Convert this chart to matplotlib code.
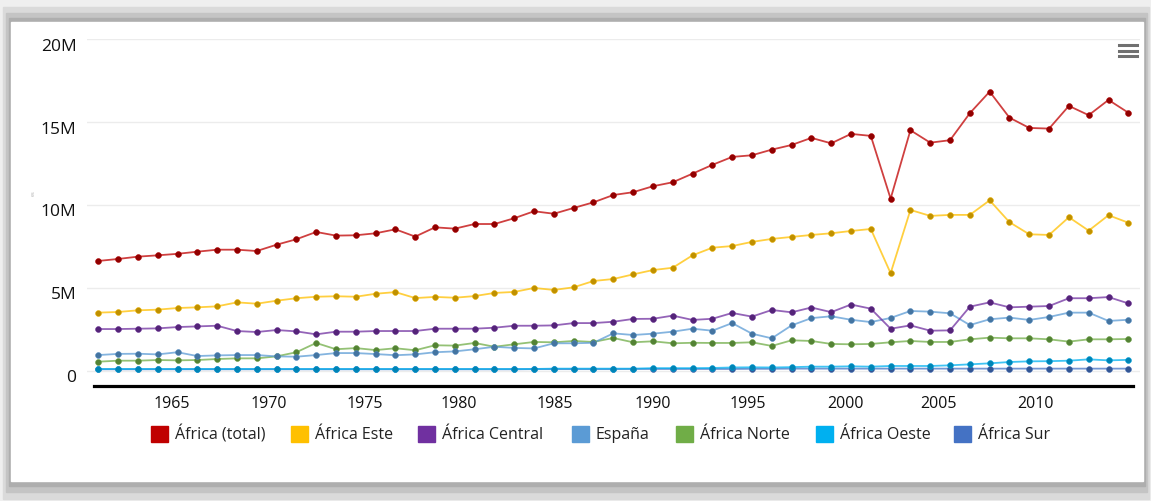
import numpy as np
import matplotlib
matplotlib.use("Agg")
import matplotlib.pyplot as plt
import matplotlib.colors as mcolors
import matplotlib.transforms as mtransforms
from matplotlib.patches import Rectangle
from matplotlib.lines import Line2D

plt.rcParams['font.family'] = ['Open Sans', 'DejaVu Sans']

W, H = 1151, 501

# --- data (millions), one point per year ---
africa_total = [6.62, 6.74, 6.88, 6.96, 7.05, 7.18, 7.30, 7.30, 7.22, 7.60,
                7.93, 8.37, 8.15, 8.17, 8.29, 8.53, 8.09, 8.65, 8.57, 8.85,
                8.85, 9.20, 9.62, 9.47, 9.82, 10.16, 10.60, 10.77, 11.13, 11.37,
                11.89, 12.42, 12.90, 13.00, 13.34, 13.62, 14.05, 13.72, 14.29, 14.17,
                10.38, 14.51, 13.76, 13.91, 15.54, 16.84, 15.27, 14.65, 14.61, 15.98,
                15.42, 16.34, 15.57]
africa_este = [3.50, 3.54, 3.64, 3.68, 3.78, 3.82, 3.88, 4.12, 4.04, 4.22,
               4.37, 4.46, 4.49, 4.46, 4.64, 4.74, 4.38, 4.45, 4.40, 4.50,
               4.69, 4.75, 4.99, 4.87, 5.03, 5.41, 5.53, 5.81, 6.07, 6.21,
               6.96, 7.42, 7.52, 7.77, 7.95, 8.07, 8.19, 8.29, 8.43, 8.55,
               5.88, 9.70, 9.34, 9.40, 9.40, 10.28, 8.96, 8.23, 8.19, 9.26,
               8.45, 9.38, 8.93]
africa_central = [2.51, 2.51, 2.53, 2.55, 2.63, 2.67, 2.71, 2.39, 2.33, 2.45,
                  2.37, 2.19, 2.35, 2.35, 2.39, 2.39, 2.39, 2.53, 2.53, 2.53,
                  2.59, 2.71, 2.71, 2.73, 2.87, 2.87, 2.95, 3.12, 3.13, 3.32,
                  3.06, 3.13, 3.48, 3.26, 3.66, 3.52, 3.81, 3.53, 3.99, 3.74,
                  2.53, 2.73, 2.41, 2.43, 3.86, 4.12, 3.82, 3.86, 3.90, 4.37,
                  4.37, 4.44, 4.06]
espana = [0.94, 1.01, 1.02, 0.98, 1.11, 0.88, 0.92, 0.94, 0.94, 0.86,
          0.84, 0.94, 1.06, 1.06, 1.00, 0.93, 0.98, 1.11, 1.16, 1.29,
          1.44, 1.37, 1.34, 1.65, 1.65, 1.68, 2.25, 2.15, 2.23, 2.35,
          2.53, 2.41, 2.87, 2.23, 1.95, 2.73, 3.17, 3.28, 3.07, 2.93,
          3.18, 3.60, 3.56, 3.46, 2.75, 3.10, 3.20, 3.06, 3.24, 3.50,
          3.50, 3.00, 3.07]
africa_norte = [0.54, 0.60, 0.60, 0.64, 0.62, 0.64, 0.70, 0.74, 0.74, 0.86,
                1.11, 1.67, 1.29, 1.36, 1.24, 1.35, 1.23, 1.53, 1.51, 1.67,
                1.44, 1.59, 1.73, 1.71, 1.79, 1.73, 1.97, 1.71, 1.77, 1.65,
                1.68, 1.67, 1.67, 1.71, 1.49, 1.83, 1.79, 1.61, 1.59, 1.61,
                1.71, 1.79, 1.73, 1.73, 1.89, 1.99, 1.95, 1.95, 1.89, 1.75,
                1.89, 1.89, 1.91]
africa_oeste = [0.10, 0.10, 0.10, 0.10, 0.10, 0.10, 0.10, 0.10, 0.10, 0.10,
                0.10, 0.10, 0.10, 0.10, 0.10, 0.10, 0.10, 0.10, 0.10, 0.10,
                0.10, 0.10, 0.10, 0.12, 0.12, 0.12, 0.12, 0.12, 0.15, 0.15,
                0.15, 0.16, 0.19, 0.20, 0.19, 0.21, 0.24, 0.24, 0.26, 0.24,
                0.28, 0.28, 0.28, 0.32, 0.38, 0.44, 0.52, 0.56, 0.57, 0.60,
                0.68, 0.62, 0.65]
africa_sur = [0.08, 0.08, 0.08, 0.08, 0.08, 0.08, 0.08, 0.08, 0.08, 0.08,
              0.08, 0.08, 0.08, 0.08, 0.08, 0.08, 0.08, 0.08, 0.08, 0.08,
              0.08, 0.08, 0.09, 0.09, 0.09, 0.09, 0.09, 0.10, 0.10, 0.10,
              0.10, 0.10, 0.10, 0.11, 0.11, 0.12, 0.12, 0.12, 0.12, 0.12,
              0.12, 0.12, 0.12, 0.12, 0.12, 0.12, 0.12, 0.12, 0.12, 0.12,
              0.12, 0.12, 0.12]

names = ['África (total)', 'África Este', 'África Central', 'España',
         'África Norte', 'África Oeste', 'África Sur']
series = [africa_total, africa_este, africa_central, espana,
          africa_norte, africa_oeste, africa_sur]
colors = ['#C00000', '#FFC000', '#7030A0', '#5B9BD5',
          '#70AD47', '#00B0F0', '#4472C4']

xtick_labels = ['1965', '1970', '1975', '1980', '1985',
                '1990', '1995', '2000', '2005', '2010']
xtick_pos = [3.7, 8.6, 13.47, 18.2, 23.07, 27.97, 32.8, 37.7, 42.4, 47.3]
ytick_vals = [0, 5, 10, 15, 20]
ytick_labels = ['0', '5M', '10M', '15M', '20M']


def box(x, y, w, h):
    # pixel box (top-left origin) -> figure fraction
    return (x / W, 1 - (y + h) / H, w / W, h / H)


def darker(c, f=0.75):
    r, g, b = mcolors.to_rgb(c)
    return (r * f, g * f, b * f)


fig = plt.figure(figsize=(W / 100, H / 100), dpi=100)
fig.patch.set_facecolor('#efefef')

# screenshot frame / shadow, kept behind the axes
for (x0, y0, x1, y1, c) in [(3, 7, 1149, 499, '#dadada'),
                             (6, 13, 1147, 492, '#c4c4c4'),
                             (9, 18, 1145, 486, '#aeaeae'),
                             (11, 22, 1143, 481, 'white')]:
    fig.patches.append(Rectangle(box(x0, y0, x1 - x0, y1 - y0)[:2],
                                 (x1 - x0) / W, (y1 - y0) / H,
                                 transform=fig.transFigure, color=c, zorder=-10))

ax = fig.add_axes(box(87, 39.3, 1140 - 87, 385.7 - 39.3))
ax.set_facecolor('none')

x = np.arange(len(africa_total))
# draw from back to front: small series first
for vals, c in list(zip(series, colors))[::-1]:
    ax.plot(x, vals, color=c, lw=1.3, alpha=0.75, zorder=3)
    ax.plot(x, vals, ls='none', marker='o', ms=4.2, mfc=darker(c),
            mec=darker(c, 0.9), mew=0.4, zorder=4)

ax.set_xlim(-0.57, 52.59)
ax.set_ylim(-0.91, 20)

ax.set_yticks(ytick_vals)
ax.set_yticklabels(ytick_labels)
ax.set_xticks(xtick_pos)
ax.set_xticklabels(xtick_labels)
ax.grid(axis='y', color='#ececec', lw=1.0, zorder=1)
ax.tick_params(axis='y', length=0, pad=7.5, labelsize=12.5, labelcolor='#111111')
ax.tick_params(axis='x', length=0, pad=7.5, labelsize=11.5, labelcolor='#111111')
for s in ['top', 'right', 'left']:
    ax.spines[s].set_visible(False)
ax.spines['bottom'].set_linewidth(2.3)
ax.spines['bottom'].set_color('black')
ax.spines['bottom'].set_bounds(-0.22, 52.24)

off = mtransforms.ScaledTranslation(0, -5.5 / 100, fig.dpi_scale_trans)
for lab in ax.get_yticklabels():
    lab.set_transform(lab.get_transform() + off)

# legend
sq_x = [151, 291, 418, 572, 676, 816, 954]
for sx, name, c in zip(sq_x, names, colors):
    fig.patches.append(Rectangle(box(sx, 426, 17, 16)[:2], 17 / W, 16 / H,
                                 transform=fig.transFigure, color=c, zorder=5))
    fig.text((sx + 24) / W, 1 - 435 / H, name, fontsize=11.5, color='#222222',
             va='center', ha='left')

# menu icon
for yy in [45, 50.7, 56]:
    fig.lines.append(Line2D([1119 / W, 1137 / W], [1 - yy / H, 1 - yy / H],
                            transform=fig.transFigure, color='#707070', lw=2.2))

# faint remnant of y-axis title
fig.text(33 / W, 1 - 193 / H, 'es', rotation=90, fontsize=4, color='#b0b0b0',
         ha='center', va='center')

fig.savefig('out.png', dpi=100, facecolor=fig.get_facecolor())
